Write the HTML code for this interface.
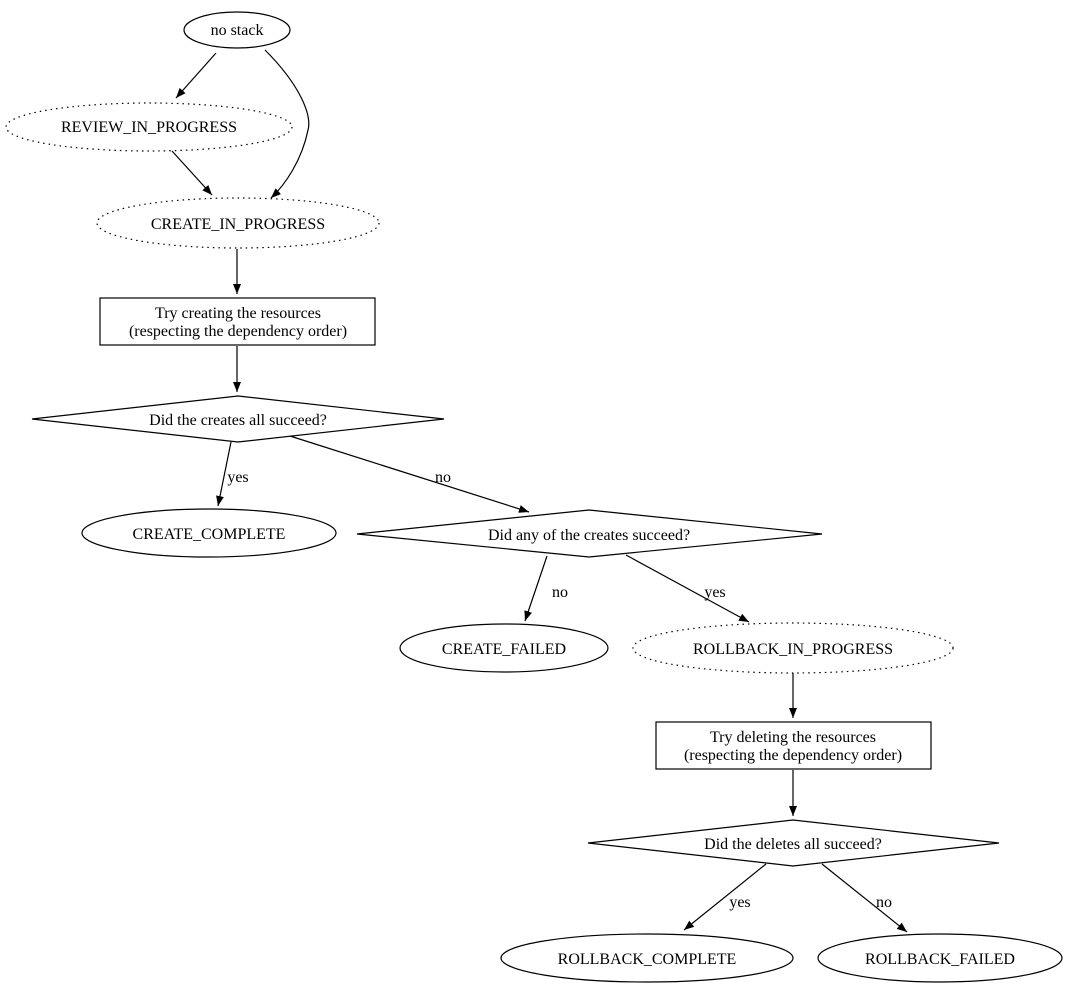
<!DOCTYPE html>
<html><head><meta charset="utf-8"><style>
html,body{margin:0;padding:0;background:#fff;}
svg{display:block;}
text{font-family:"Liberation Serif",serif;font-size:16px;fill:#000;}
</style></head><body>
<svg width="1070" height="987" viewBox="0 0 1070 987" xmlns="http://www.w3.org/2000/svg">
<defs>
<marker id="a" markerWidth="10" markerHeight="8" refX="10" refY="4" orient="auto" markerUnits="userSpaceOnUse">
<path d="M0,0 L10,4 L0,8 Z" fill="#000"/>
</marker>
</defs>
<g fill="none" stroke="#000" stroke-width="1.2">
<ellipse cx="237" cy="30" rx="53" ry="18"/>
<ellipse cx="149" cy="127" rx="143" ry="24" stroke-dasharray="1.5,4"/>
<ellipse cx="238" cy="223" rx="141" ry="25" stroke-dasharray="1.5,4"/>
<rect x="100" y="298" width="275" height="47"/>
<polygon points="238,396 444,419 238,442 32,419"/>
<ellipse cx="209" cy="533" rx="127" ry="24"/>
<polygon points="589,510 822,534 589,557 357,534"/>
<ellipse cx="504" cy="648" rx="104" ry="24"/>
<ellipse cx="793" cy="648" rx="160" ry="25" stroke-dasharray="1.5,4"/>
<rect x="656" y="722" width="275" height="47"/>
<polygon points="793,820 999,843 793,866 588,843"/>
<ellipse cx="647" cy="958" rx="146" ry="24"/>
<ellipse cx="940" cy="958" rx="122" ry="24"/>

<path d="M216,53 L176,98" marker-end="url(#a)"/>
<path d="M265,50 C300,85 312,115 308,130 C302,160 285,185 271,198" marker-end="url(#a)"/>
<path d="M172,151 L212,195" marker-end="url(#a)"/>
<path d="M237,249 L237,294" marker-end="url(#a)"/>
<path d="M237,346 L237,392" marker-end="url(#a)"/>
<path d="M231,442 L218,506" marker-end="url(#a)"/>
<path d="M290,436 L529,512" marker-end="url(#a)"/>
<path d="M547,556 L525,621" marker-end="url(#a)"/>
<path d="M626,555 L749,622" marker-end="url(#a)"/>
<path d="M793,673 L793,718" marker-end="url(#a)"/>
<path d="M793,770 L793,816" marker-end="url(#a)"/>
<path d="M766,864 L684,930" marker-end="url(#a)"/>
<path d="M822,864 L907,932" marker-end="url(#a)"/>
</g>
<g text-anchor="middle">
<text x="237" y="35">no stack</text>
<text x="149" y="132">REVIEW_IN_PROGRESS</text>
<text x="238" y="229">CREATE_IN_PROGRESS</text>
<text x="238" y="318">Try creating the resources</text>
<text x="238" y="336">(respecting the dependency order)</text>
<text x="238" y="425">Did the creates all succeed?</text>
<text x="209" y="539">CREATE_COMPLETE</text>
<text x="589" y="540">Did any of the creates succeed?</text>
<text x="504" y="654">CREATE_FAILED</text>
<text x="793" y="654">ROLLBACK_IN_PROGRESS</text>
<text x="793" y="742">Try deleting the resources</text>
<text x="793" y="760">(respecting the dependency order)</text>
<text x="793" y="849">Did the deletes all succeed?</text>
<text x="647" y="964">ROLLBACK_COMPLETE</text>
<text x="940" y="964">ROLLBACK_FAILED</text>
<text x="238" y="482">yes</text>
<text x="443" y="482">no</text>
<text x="560" y="597">no</text>
<text x="715" y="597">yes</text>
<text x="740" y="907">yes</text>
<text x="884" y="907">no</text>
</g>
</svg>
</body></html>
